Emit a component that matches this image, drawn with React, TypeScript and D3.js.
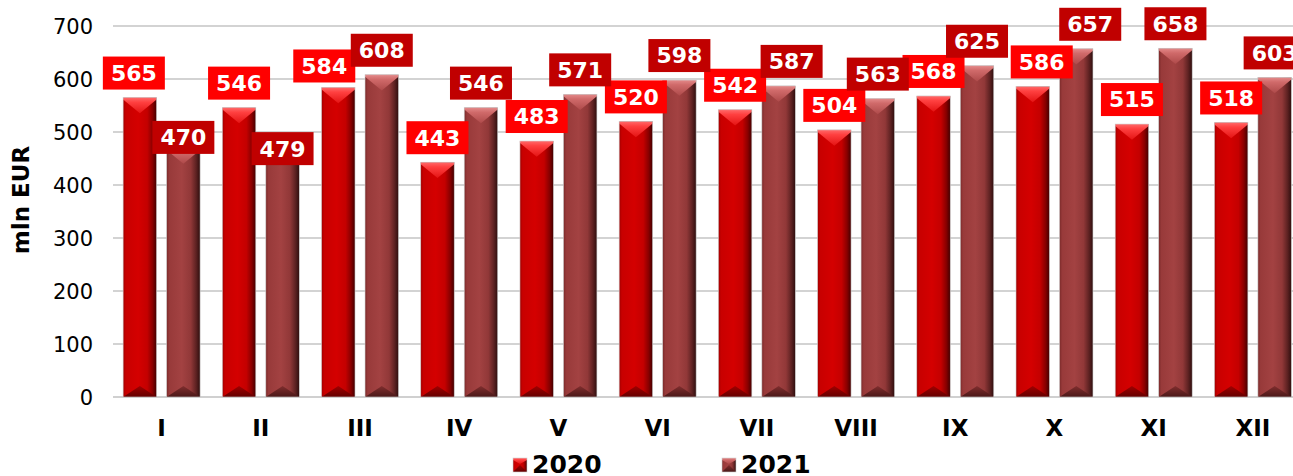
import React from 'react'
import * as d3 from 'd3'

const months = ['I', 'II', 'III', 'IV', 'V', 'VI', 'VII', 'VIII', 'IX', 'X', 'XI', 'XII']
const series = ['2020', '2021']
const values2020 = [565, 546, 584, 443, 483, 520, 542, 504, 568, 586, 515, 518]
const values2021 = [470, 479, 608, 546, 571, 598, 587, 563, 625, 657, 658, 603]
const yTicks = [0, 100, 200, 300, 400, 500, 600, 700]
const yTitle = 'mln EUR'

// hand-moved labels in the original (dx, dy in px)
const labelNudge: Record<string, [number, number]> = {
  'I-2020': [-6, 0],
  'I-2021': [0, 14],
  'II-2021': [0, 30],
  'III-2020': [-14, 3],
  'VII-2021': [13, 0],
  'X-2020': [9, 0],
  'X-2021': [14, 0],
}

const W = 1293
const H = 476
const FONT = 'DejaVu Sans, Verdana, sans-serif'

const labelFill: Record<string, string> = { '2020': '#ff0000', '2021': '#c00000' }

function Bar({ x, y, w, h, s }: { x: number; y: number; w: number; h: number; s: string }) {
  const d = Math.min(w / 2 - 1, 16, h / 2)
  const b = Math.min(11, h / 2)
  const top = `${x},${y} ${x + w},${y} ${x + w},${y + 2} ${x + w / 2},${y + d} ${x},${y + 2}`
  const bot = `${x},${y + h} ${x + w},${y + h} ${x + w / 2},${y + h - b}`
  return (
    <g>
      <rect x={x} y={y} width={w} height={h} fill={`url(#body-${s})`} />
      <polygon points={top} fill={`url(#top-${s})`} />
      <polygon points={bot} fill={`url(#bot-${s})`} />
      <rect x={x} y={y} width={w} height={h} fill="none" stroke="#d0d0d0" strokeWidth={0.6} />
    </g>
  )
}

export default function App() {
  const x0 = d3.scaleBand<string>().domain(months).range([112, 1302.5]).paddingInner(0.224).paddingOuter(0.112)
  const x1 = d3.scaleBand<string>().domain(series).range([0, x0.bandwidth()]).paddingInner(0.23)
  const y = d3.scaleLinear().domain([0, 700]).range([397, 26])

  const data = series.map((s, si) => ({
    s,
    vals: months.map((m, i) => ({ m, v: si === 0 ? values2020[i] : values2021[i] })),
  }))

  return (
    <svg width={W} height={H} style={{ position: 'absolute', left: 0, top: 0, background: '#fff' }} fontFamily={FONT}>
      <defs>
        <linearGradient id="body-2020" x1="0" x2="1" y1="0" y2="0">
          <stop offset="0" stopColor="#a00000" />
          <stop offset="0.08" stopColor="#c80000" />
          <stop offset="0.45" stopColor="#d40000" />
          <stop offset="0.72" stopColor="#c40000" />
          <stop offset="0.88" stopColor="#880000" />
          <stop offset="1" stopColor="#420000" />
        </linearGradient>
        <linearGradient id="body-2021" x1="0" x2="1" y1="0" y2="0">
          <stop offset="0" stopColor="#7a2a2a" />
          <stop offset="0.08" stopColor="#983a3a" />
          <stop offset="0.45" stopColor="#a34242" />
          <stop offset="0.72" stopColor="#913838" />
          <stop offset="0.88" stopColor="#5e2222" />
          <stop offset="1" stopColor="#2e0e0e" />
        </linearGradient>
        <linearGradient id="top-2020" x1="0" x2="0" y1="0" y2="1">
          <stop offset="0" stopColor="#ff6a6a" />
          <stop offset="0.3" stopColor="#ff4040" />
          <stop offset="1" stopColor="#e41414" />
        </linearGradient>
        <linearGradient id="top-2021" x1="0" x2="0" y1="0" y2="1">
          <stop offset="0" stopColor="#e48a8a" />
          <stop offset="0.3" stopColor="#d06a6a" />
          <stop offset="1" stopColor="#ae4a4a" />
        </linearGradient>
        <linearGradient id="bot-2020" x1="0" x2="0" y1="0" y2="1">
          <stop offset="0" stopColor="#a00000" />
          <stop offset="1" stopColor="#640000" />
        </linearGradient>
        <linearGradient id="bot-2021" x1="0" x2="0" y1="0" y2="1">
          <stop offset="0" stopColor="#802e2e" />
          <stop offset="1" stopColor="#4a1818" />
        </linearGradient>
      </defs>

      {/* grid + y axis */}
      {yTicks.map(t => (
        <g key={t}>
          {t > 0 && <line x1={113} x2={W} y1={y(t)} y2={y(t)} stroke="#c4c4c4" strokeWidth={1.5} />}
          <text x={93} y={y(t)} dy="0.36em" textAnchor="end" fontSize={21} fill="#000">{t}</text>
        </g>
      ))}
      <line x1={113} x2={W} y1={y(0)} y2={y(0)} stroke="#d0d0d0" strokeWidth={2} />
      <text transform={`translate(29,200) rotate(-90)`} textAnchor="middle" fontSize={23} fontWeight="bold">{yTitle}</text>

      {/* bars */}
      {data.map(({ s, vals }) => (
        <g key={s}>
          {vals.map(({ m, v }) => (
            <Bar key={m} s={s} x={(x0(m) ?? 0) + (x1(s) ?? 0)} y={y(v)} w={x1.bandwidth()} h={y(0) - y(v)} />
          ))}
        </g>
      ))}

      {/* category labels */}
      {months.map(m => (
        <text key={m} x={(x0(m) ?? 0) + x0.bandwidth() / 2} y={436} textAnchor="middle" fontSize={23} fontWeight="bold">{m}</text>
      ))}

      {/* data labels */}
      {data.map(({ s, vals }) => (
        <g key={s}>
          {vals.map(({ m, v }) => {
            const [dx, dy] = labelNudge[`${m}-${s}`] ?? [0, 0]
            const cx = (x0(m) ?? 0) + (x1(s) ?? 0) + x1.bandwidth() / 2 + dx
            const cy = y(v) - 24.5 + dy
            return (
              <g key={m}>
                <rect x={cx - 31} y={cy - 16.5} width={62} height={33} fill={labelFill[s]} />
                <text x={cx} y={cy} dy="0.36em" textAnchor="middle" fontSize={22} fontWeight="bold" fill="#fff">{v}</text>
              </g>
            )
          })}
        </g>
      ))}

      {/* legend */}
      {series.map((s, i) => {
        const lx = 513 + i * 209
        return (
          <g key={s}>
            <Bar s={s} x={lx} y={458} w={14} h={14} />
            <text x={lx + 19} y={473} fontSize={25} fontWeight="bold">{s}</text>
          </g>
        )
      })}
    </svg>
  )
}
